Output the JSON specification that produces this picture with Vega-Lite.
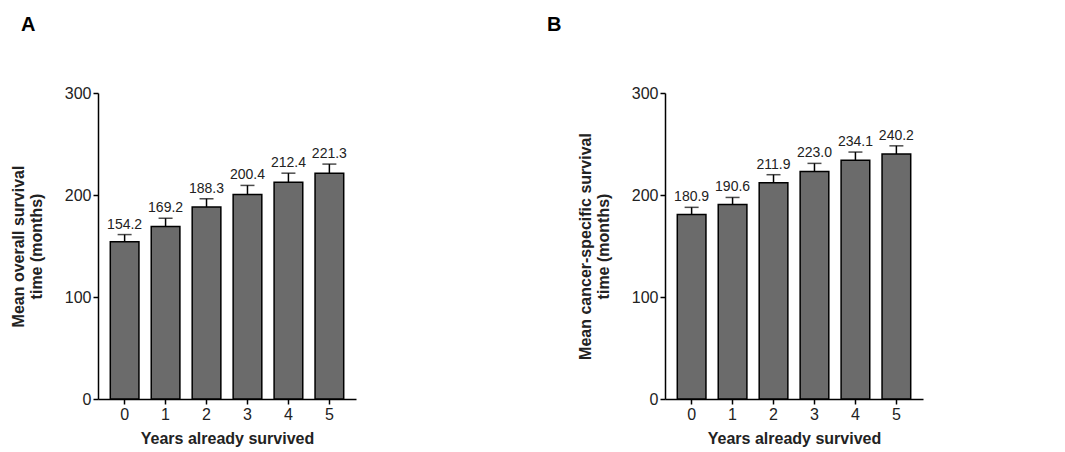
{
  "$schema": "https://vega.github.io/schema/vega-lite/v6.json",
  "padding": {"left": 10, "top": 15, "right": 5, "bottom": 5},
  "spacing": 191,
  "config": {
    "view": {"stroke": null},
    "font": "Arial",
    "axis": {"domainColor": "black", "tickColor": "black", "labelColor": "#222", "titleColor": "#222", "grid": false, "labelFontSize": 16, "titleFontSize": 16, "titleFontWeight": "bold", "domainWidth": 1.5, "tickWidth": 1.5},
    "title": {"fontSize": 20, "fontWeight": "bold", "anchor": "start", "color": "black", "frame": "group"}
  },
  "hconcat": [
    {
      "title": {"text": "A", "dx": -77, "offset": 50},
      "width": 258, "height": 306,
      "data": {"values": [
        {"year": "0", "v": 154.2, "e": 7}, {"year": "1", "v": 169.2, "e": 8},
        {"year": "2", "v": 188.3, "e": 8}, {"year": "3", "v": 200.4, "e": 9},
        {"year": "4", "v": 212.4, "e": 9}, {"year": "5", "v": 221.3, "e": 9}
      ]},
      "encoding": {
        "x": {"field": "year", "type": "ordinal", "scale": {"paddingInner": 0.3, "paddingOuter": 0.3}, "axis": {"labelAngle": 0, "title": "Years already survived", "titlePadding": 8}},
        "y": {"field": "v", "type": "quantitative", "scale": {"domain": [0, 300]}, "axis": {"values": [0, 100, 200, 300], "title": ["Mean overall survival", "time (months)"], "titlePadding": 20}}
      },
      "layer": [
        {"mark": {"type": "rule", "stroke": "black", "strokeWidth": 1.5}, "encoding": {"y2": {"field": "top"}}, "transform": [{"calculate": "datum.v + datum.e", "as": "top"}]},
        {"mark": {"type": "tick", "color": "black", "thickness": 1.5, "size": 14}, "transform": [{"calculate": "datum.v + datum.e", "as": "top"}], "encoding": {"y": {"field": "top", "type": "quantitative"}}},
        {"mark": {"type": "bar", "fill": "#6b6b6b", "stroke": "black", "strokeWidth": 1.5}},
        {"mark": {"type": "text", "fontSize": 14, "color": "#222", "dy": -10}, "transform": [{"calculate": "datum.v + datum.e", "as": "top"}], "encoding": {"y": {"field": "top", "type": "quantitative"}, "text": {"field": "v", "type": "quantitative", "format": ".1f"}}}
      ]
    },
    {
      "title": {"text": "B", "dx": -118, "offset": 50},
      "width": 258, "height": 306,
      "data": {"values": [
        {"year": "0", "v": 180.9, "e": 7}, {"year": "1", "v": 190.6, "e": 7},
        {"year": "2", "v": 211.9, "e": 8}, {"year": "3", "v": 223.0, "e": 8},
        {"year": "4", "v": 234.1, "e": 8}, {"year": "5", "v": 240.2, "e": 8}
      ]},
      "encoding": {
        "x": {"field": "year", "type": "ordinal", "scale": {"paddingInner": 0.3, "paddingOuter": 0.3}, "axis": {"labelAngle": 0, "title": "Years already survived", "titlePadding": 8}},
        "y": {"field": "v", "type": "quantitative", "scale": {"domain": [0, 300]}, "axis": {"values": [0, 100, 200, 300], "title": ["Mean cancer-specific  survival", "time (months)"], "titlePadding": 20}}
      },
      "layer": [
        {"mark": {"type": "rule", "stroke": "black", "strokeWidth": 1.5}, "encoding": {"y2": {"field": "top"}}, "transform": [{"calculate": "datum.v + datum.e", "as": "top"}]},
        {"mark": {"type": "tick", "color": "black", "thickness": 1.5, "size": 14}, "transform": [{"calculate": "datum.v + datum.e", "as": "top"}], "encoding": {"y": {"field": "top", "type": "quantitative"}}},
        {"mark": {"type": "bar", "fill": "#6b6b6b", "stroke": "black", "strokeWidth": 1.5}},
        {"mark": {"type": "text", "fontSize": 14, "color": "#222", "dy": -10}, "transform": [{"calculate": "datum.v + datum.e", "as": "top"}], "encoding": {"y": {"field": "top", "type": "quantitative"}, "text": {"field": "v", "type": "quantitative", "format": ".1f"}}}
      ]
    }
  ]
}
